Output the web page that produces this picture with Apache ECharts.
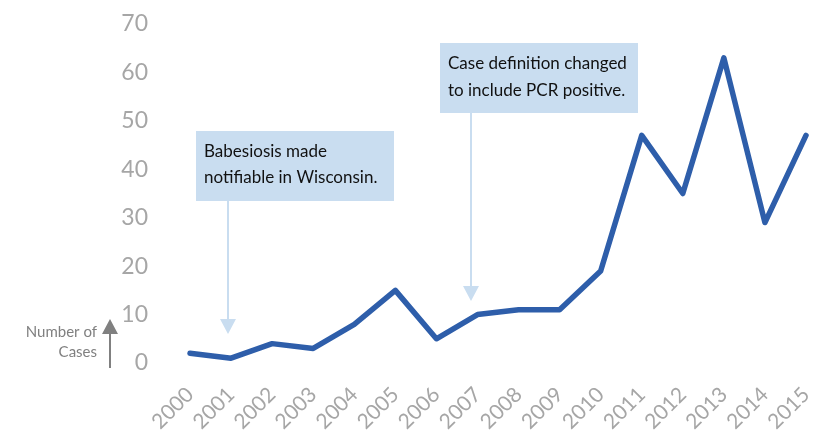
<!DOCTYPE html>
<html>
<head>
<meta charset="utf-8">
<script src="https://cdn.jsdelivr.net/npm/echarts@6/dist/echarts.min.js"></script>
<style>
  html, body { margin: 0; padding: 0; background: #fff; }
  #main { width: 823px; height: 435px; }
</style>
</head>
<body>
<div id="main"></div>
<script>
 // 数据
 var years = ['2000','2001','2002','2003','2004','2005','2006','2007','2008','2009','2010','2011','2012','2013','2014','2015'];
 var cases = [2, 1, 4, 3, 8, 15, 5, 10, 11, 11, 19, 47, 35, 63, 29, 47];
 var yTicks = { min: 0, max: 70, interval: 10 };

 var myChart = echarts.init(document.getElementById('main'));

 var grey = '#a6a6a6';
 var boxBlue = '#c9ddf0';
 var font = 'Lato, "Open Sans", sans-serif';

 var option = {
     animation: false,
     grid: { left: 190, right: 17, top: 24, bottom: 72 },
     xAxis: {
         type: 'category',
         data: years,
         boundaryGap: false,
         axisLine: { show: false },
         axisTick: { show: false },
         axisLabel: {
             rotate: 45,
             margin: 28,
             color: grey,
             fontSize: 21,
             fontFamily: font,
             interval: 0
         }
     },
     yAxis: {
         type: 'value',
         min: yTicks.min,
         max: yTicks.max,
         interval: yTicks.interval,
         splitLine: { show: false },
         axisLine: { show: false },
         axisTick: { show: false },
         axisLabel: { color: grey, fontSize: 23, fontFamily: font, margin: 42 }
     },
     series: [{
         type: 'line',
         data: cases,
         symbol: 'none',
         lineStyle: { color: '#2e5eaa', width: 5.5, join: 'round', cap: 'round' }
     }],
     graphic: [
         // 注释框1
         { type: 'rect', shape: { x: 196, y: 131, width: 198, height: 70 }, style: { fill: boxBlue } },
         { type: 'text', x: 204, y: 139, style: { text: 'Babesiosis made\nnotifiable in Wisconsin.', fill: '#111', font: '17px ' + font, lineHeight: 26 } },
         { type: 'line', shape: { x1: 228, y1: 201, x2: 228, y2: 320 }, style: { stroke: boxBlue, lineWidth: 2 } },
         { type: 'polygon', shape: { points: [[220, 319], [236, 319], [228, 334]] }, style: { fill: boxBlue } },
         // 注释框2
         { type: 'rect', shape: { x: 440, y: 43, width: 198, height: 70 }, style: { fill: boxBlue } },
         { type: 'text', x: 448, y: 50, style: { text: 'Case definition changed\nto include PCR positive.', fill: '#111', font: '17px ' + font, lineHeight: 27 } },
         { type: 'line', shape: { x1: 471, y1: 113, x2: 471, y2: 287 }, style: { stroke: boxBlue, lineWidth: 2 } },
         { type: 'polygon', shape: { points: [[463, 286], [479, 286], [471, 301]] }, style: { fill: boxBlue } },
         // 轴标题
         { type: 'text', x: 97, y: 332, style: { text: 'Number of', fill: '#808080', font: '15px ' + font, align: 'right', verticalAlign: 'middle' } },
         { type: 'text', x: 97, y: 352, style: { text: 'Cases', fill: '#808080', font: '15px ' + font, align: 'right', verticalAlign: 'middle' } },
         { type: 'line', shape: { x1: 110, y1: 332, x2: 110, y2: 368 }, style: { stroke: '#808080', lineWidth: 2 } },
         { type: 'polygon', shape: { points: [[102, 334], [118, 334], [110, 319]] }, style: { fill: '#808080' } }
     ]
 };

 myChart.setOption(option);
</script>
</body>
</html>
